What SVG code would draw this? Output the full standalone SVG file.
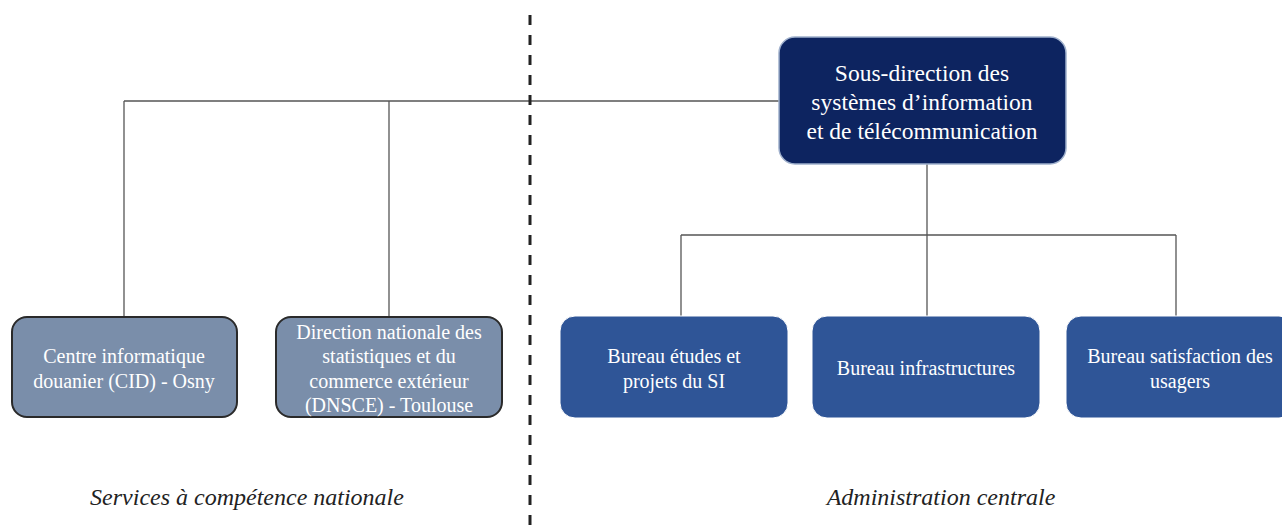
<svg xmlns="http://www.w3.org/2000/svg" width="1282" height="527" viewBox="0 0 1282 527">
<style>
.t{font-family:"Liberation Serif","Times New Roman",serif;fill:#ffffff;text-anchor:middle}
.s{font-size:20px}
.lab{font-family:"Liberation Serif","Times New Roman",serif;font-style:italic;font-size:24px;fill:#222;text-anchor:middle}
.c{stroke:#555;stroke-width:1.3;fill:none}
.grey{fill:#7a8eaa;stroke:#2a2a2a;stroke-width:2}
.blue{fill:#2f5597;stroke:#ffffff;stroke-width:1}
</style>
<rect width="1282" height="527" fill="#ffffff"/>
<g id="connectors">
<line class="c" x1="124" y1="101" x2="779" y2="101"/>
<line class="c" x1="124" y1="101" x2="124" y2="317"/>
<line class="c" x1="389" y1="101" x2="389" y2="317"/>
<line class="c" x1="927" y1="164" x2="927" y2="317"/>
<line class="c" x1="681" y1="235" x2="1176" y2="235"/>
<line class="c" x1="681" y1="235" x2="681" y2="317"/>
<line class="c" x1="1176" y1="235" x2="1176" y2="317"/>
</g>
<g id="divider">
<line x1="530" y1="15" x2="530" y2="527" stroke="#222" stroke-width="3" stroke-dasharray="10 10"/>
</g>
<g id="main">
<rect x="779" y="37" width="287" height="127" rx="16" fill="#0d2460" stroke="#9fb0cc" stroke-width="1.5"/>
<text class="t" font-size="23.5"><tspan x="922" y="81">Sous-direction des</tspan><tspan x="922" y="110">systèmes d’information</tspan><tspan x="922" y="139">et de télécommunication</tspan></text>
</g>
<g id="cid">
<rect class="grey" x="12" y="317" width="225" height="100" rx="15"/>
<text class="t s"><tspan x="124" y="363">Centre informatique</tspan><tspan x="124" y="388">douanier (CID) - Osny</tspan></text>
</g>
<g id="dnsce">
<rect class="grey" x="276" y="317" width="226" height="100" rx="15"/>
<text class="t s"><tspan x="389" y="339">Direction nationale des</tspan><tspan x="389" y="363">statistiques et du</tspan><tspan x="389" y="388">commerce extérieur</tspan><tspan x="389" y="412">(DNSCE) - Toulouse</tspan></text>
</g>
<g id="bureau-etudes">
<rect class="blue" x="560" y="316" width="228" height="102" rx="15"/>
<text class="t s"><tspan x="674" y="363">Bureau études et</tspan><tspan x="674" y="388">projets du SI</tspan></text>
</g>
<g id="bureau-infra">
<rect class="blue" x="812" y="316" width="228" height="102" rx="15"/>
<text class="t s"><tspan x="926" y="375">Bureau infrastructures</tspan></text>
</g>
<g id="bureau-satisfaction">
<rect class="blue" x="1066" y="316" width="228" height="102" rx="15"/>
<text class="t s"><tspan x="1180" y="363">Bureau satisfaction des</tspan><tspan x="1180" y="388">usagers</tspan></text>
</g>
<g id="labels">
<text class="lab" x="247" y="505">Services à compétence nationale</text>
<text class="lab" x="941" y="505">Administration centrale</text>
</g>
</svg>
